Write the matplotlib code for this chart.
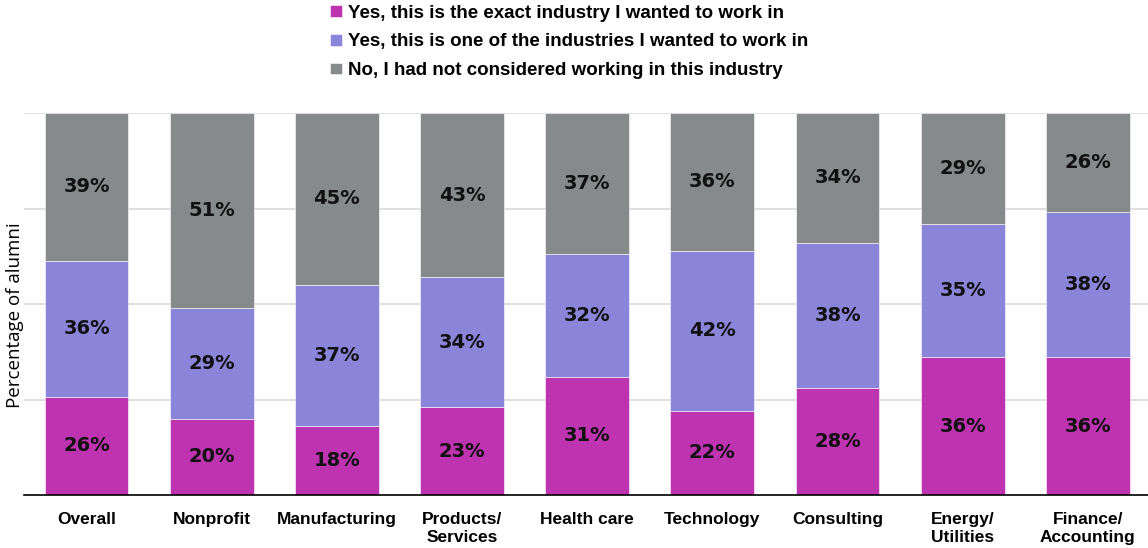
import numpy as np
import matplotlib
matplotlib.use('Agg')
import matplotlib.pyplot as plt

categories = ['Overall', 'Nonprofit', 'Manufacturing', 'Products/\nServices', 'Health care',
              'Technology', 'Consulting', 'Energy/\nUtilities', 'Finance/\nAccounting']
exact = [26, 20, 18, 23, 31, 22, 28, 36, 36]
one_of = [36, 29, 37, 34, 32, 42, 38, 35, 38]
not_considered = [39, 51, 45, 43, 37, 36, 34, 29, 26]
series_names = ['Yes, this is the exact industry I wanted to work in',
                'Yes, this is one of the industries I wanted to work in',
                'No, I had not considered working in this industry']
colors = ['#BE33B0', '#8B85D9', '#878A8A']

data = np.array([exact, one_of, not_considered], dtype=float)
shares = data / data.sum(axis=0) * 100

fig = plt.figure(figsize=(11.48, 5.48), dpi=100)
ax = fig.add_axes([0.0209, 0.0967, 0.979, 0.6971])

x = np.arange(len(categories))
bottom = np.zeros(len(categories))
bars = []
for i in range(3):
    b = ax.bar(x, shares[i], bottom=bottom, width=0.67, color=colors[i],
               edgecolor='white', linewidth=0.4, label=series_names[i], zorder=2)
    ax.bar_label(b, labels=[f'{v}%' for v in data[i].astype(int)], label_type='center',
                 fontsize=14, fontweight='bold', family='DejaVu Sans', color='#111111')
    bars.append(b)
    bottom += shares[i]

ax.set_xlim(-0.5, 8.48)
ax.set_ylim(0, 100)
ax.set_yticks([25, 50, 75, 100])
ax.yaxis.grid(True, color='#D9D9D9', linewidth=1.2, zorder=0)
ax.tick_params(axis='y', length=0, labelleft=False)
ax.tick_params(axis='x', length=0, pad=12)
ax.set_xticks(x)
ax.set_xticklabels(categories, fontsize=12.5, fontweight='bold', family='Liberation Sans',
                   linespacing=1.25, va='top')
for s in ['top', 'right', 'left']:
    ax.spines[s].set_visible(False)
ax.spines['bottom'].set_color('black')
ax.spines['bottom'].set_linewidth(1.2)
ax.set_ylabel('Percentage of alumni', fontsize=13.5, family='Open Sans', va='center')
ax.yaxis.set_label_coords(-0.008, 0.47)

fig.legend(handles=bars, labels=series_names, loc='upper left', bbox_to_anchor=(0.273, 1.022),
           frameon=False, prop={'family': 'Liberation Sans', 'weight': 'bold', 'size': 13.5},
           handlelength=0.6, handleheight=0.6, handletextpad=0.35, labelspacing=0.62)

fig.savefig('out.png', dpi=100)
